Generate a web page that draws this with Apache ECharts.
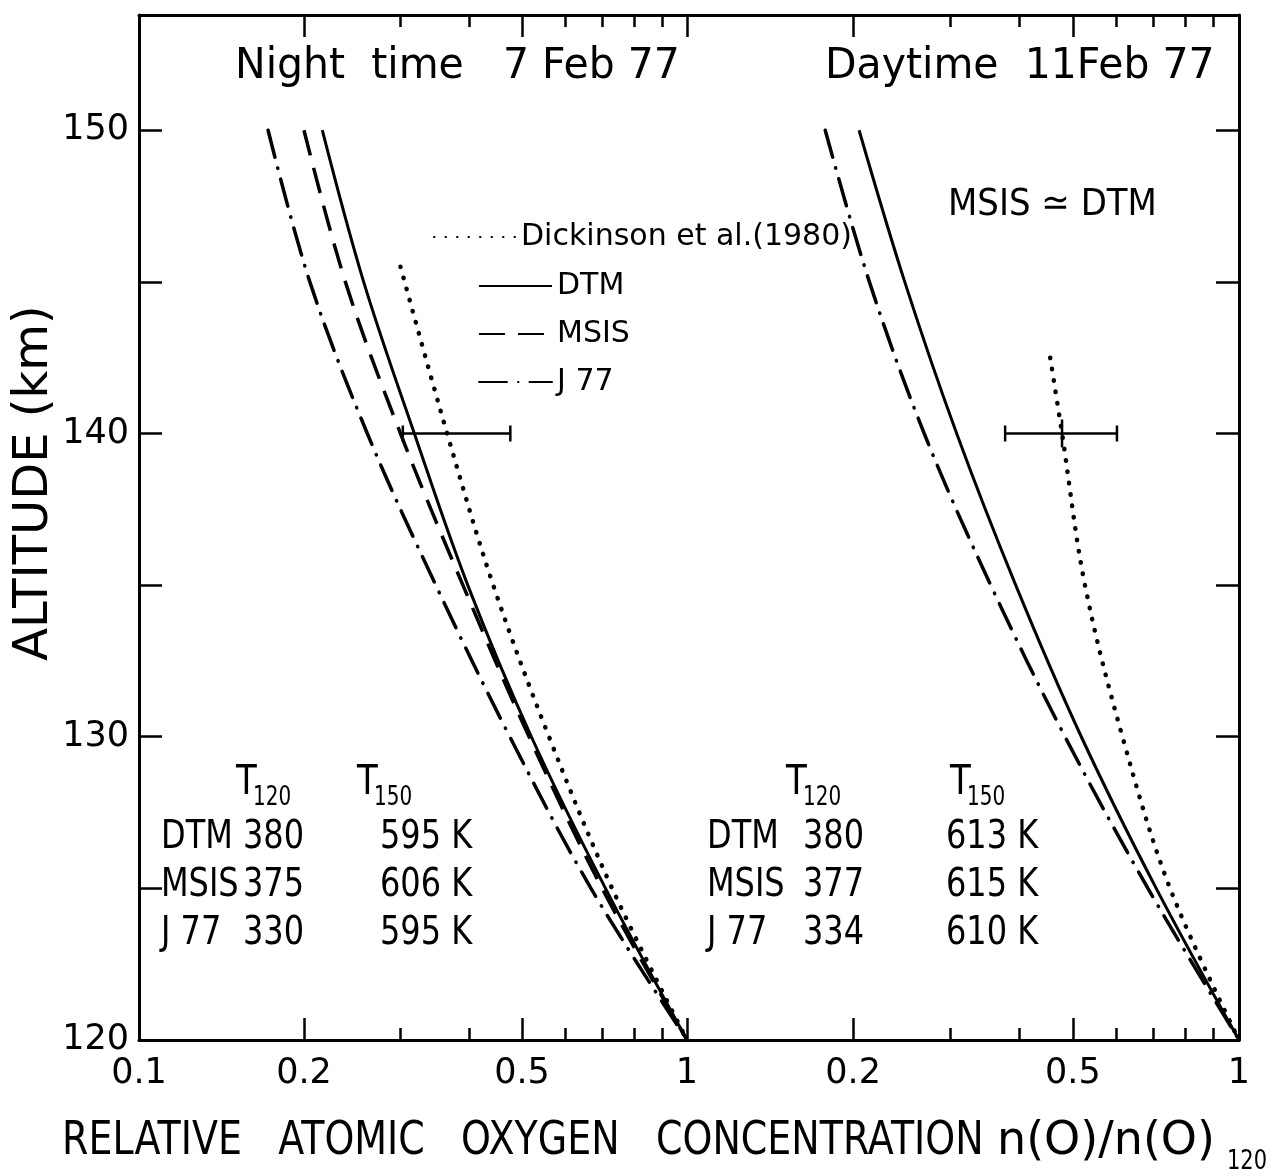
<!DOCTYPE html>
<html><head><meta charset="utf-8">
<script src="https://cdn.jsdelivr.net/npm/echarts@6/dist/echarts.min.js"></script>
<style>html,body{margin:0;padding:0;background:#fff}#c{width:1282px;height:1176px}</style>
</head><body><div id="c"></div>
<script>
// ---------- data ----------
const altitudes  = [150, 145, 140, 135, 130, 125, 120];
const nightDTM   = [0.216, 0.257, 0.318, 0.398, 0.520, 0.710, 1.0];
const nightMSIS  = [0.200, 0.238, 0.300, 0.390, 0.515, 0.700, 1.0];
const nightJ77   = [0.172, 0.205, 0.261, 0.348, 0.475, 0.668, 1.0];
const nightDickAlt = [145.5, 140, 135, 130, 125, 120];
const nightDick    = [0.300, 0.365, 0.443, 0.560, 0.730, 1.0];
const dayDTM     = [0.205, 0.248, 0.308, 0.394, 0.518, 0.708, 1.0];
const dayJ77     = [0.178, 0.214, 0.269, 0.355, 0.484, 0.684, 1.0];
const dayDickAlt = [142.5, 140, 135, 130, 125, 120];
const dayDick    = [0.455, 0.478, 0.526, 0.615, 0.750, 1.0];
const errorAltitude = 140;
const nightError = [0.303, 0.476];          // low, high
const dayError   = [0.377, 0.601, 0.478];   // low, high, centre
const xLabelsNight = [0.1, 0.2, 0.5, 1];
const xLabelsDay   = [0.2, 0.5, 1];
const xMajorTicks  = [0.2, 0.5, 1];
const xMinorTicks  = [0.3, 0.4, 0.6, 0.7, 0.8, 0.9];
const yLabels = [120, 130, 140, 150];
const yTicks  = [125, 130, 135, 140, 145, 150];
const tableHeader = [['T', '120'], ['T', '150']];
const nightTable = [['DTM', '380', '595 K'], ['MSIS', '375', '606 K'], ['J 77', '330', '595 K']];
const dayTable   = [['DTM', '380', '613 K'], ['MSIS', '377', '615 K'], ['J 77', '334', '610 K']];
const nightTitle = 'Night  time   7 Feb 77';
const dayTitle   = 'Daytime  11Feb 77';
const dayNote    = 'MSIS \u2243 DTM';
const xNameWords = 'RELATIVE   ATOMIC   OXYGEN   CONCENTRATION';
const xNameRatio = 'n(O)/n(O)';
const xNameSub = '120';
const yName = 'ALTITUDE (km)';
const NAMES = {dick: 'Dickinson et al.(1980)', dtm: 'DTM', msis: 'MSIS', j77: 'J 77'};

// ---------- styling ----------
const FONT = '"DejaVu Sans", sans-serif';
const BLACK = '#000';
const zip = (xs, ys) => xs.map((x, i) => [x, ys[i]]);

const styles = {
  dtm:  {type: 'solid', width: 3, color: BLACK},
  msis: {type: [26, 13], width: 3.5, color: BLACK},
  j77:  {type: [28, 11, 0.5, 11], width: 3.5, cap: 'round', color: BLACK},
  dick: {type: [0.5, 11], width: 4.5, cap: 'round', color: BLACK}
};

function lineSeries(key, data, panel) {
  return {
    type: 'line', name: NAMES[key], data: data,
    xAxisIndex: panel * 4, yAxisIndex: panel,
    symbol: 'none', smooth: 0.35, silent: true,
    lineStyle: styles[key], itemStyle: {color: BLACK}, z: 3
  };
}

function errorSeries(values, panel) {
  return {
    type: 'custom', xAxisIndex: panel * 4, yAxisIndex: panel, silent: true, z: 4,
    data: [values.length > 2 ? [values[0], values[1], errorAltitude, values[2]] : [values[0], values[1], errorAltitude]],
    encode: {x: [0, 1], y: 2},
    renderItem: (params, api) => {
      const a = api.coord([api.value(0), api.value(2)]);
      const b = api.coord([api.value(1), api.value(2)]);
      const st = {stroke: BLACK, lineWidth: 2.5};
      const ch = [
        {type: 'line', shape: {x1: a[0], y1: a[1], x2: b[0], y2: b[1]}, style: st},
        {type: 'line', shape: {x1: a[0], y1: a[1] - 8, x2: a[0], y2: a[1] + 8}, style: st},
        {type: 'line', shape: {x1: b[0], y1: b[1] - 8, x2: b[0], y2: b[1] + 8}, style: st}
      ];
      const m = api.value(3);
      if (!isNaN(m)) {
        const c = api.coord([m, api.value(2)]);
        ch.push({type: 'line', shape: {x1: c[0], y1: c[1] - 14, x2: c[0], y2: c[1] + 14}, style: st});
      }
      return {type: 'group', children: ch};
    }
  };
}

function xAxes(grid, labels) {
  const base = {type: 'log', logBase: 10, min: 0.1, max: 1, gridIndex: grid, splitLine: {show: false}};
  return [
    Object.assign({}, base, {position: 'bottom',
      axisLine: {show: true, lineStyle: {color: BLACK, width: 3}},
      axisTick: {show: true, inside: true, length: 22, customValues: xMajorTicks, lineStyle: {color: BLACK, width: 2.5}},
      axisLabel: {show: true, customValues: labels, color: BLACK, fontSize: 35, fontFamily: FONT, margin: 16,
        formatter: v => String(Math.round(v * 10) / 10)}}),
    Object.assign({}, base, {position: 'bottom',
      axisLine: {show: false},
      axisTick: {show: true, inside: true, length: 12, customValues: xMinorTicks, lineStyle: {color: BLACK, width: 2.5}},
      axisLabel: {show: false}}),
    Object.assign({}, base, {position: 'top',
      axisLine: {show: true, lineStyle: {color: BLACK, width: 3}},
      axisTick: {show: true, inside: true, length: 22, customValues: xMajorTicks, lineStyle: {color: BLACK, width: 2.5}},
      axisLabel: {show: false}}),
    Object.assign({}, base, {position: 'top',
      axisLine: {show: false},
      axisTick: {show: true, inside: true, length: 12, customValues: xMinorTicks, lineStyle: {color: BLACK, width: 2.5}},
      axisLabel: {show: false}})
  ];
}

function yAxis(grid, pos, showLabels) {
  return {
    type: 'value', gridIndex: grid, position: pos, min: 120, max: 153.8,
    splitLine: {show: false},
    axisLine: {show: true, lineStyle: {color: BLACK, width: 3}},
    axisTick: {show: true, inside: true, length: 23, customValues: yTicks, lineStyle: {color: BLACK, width: 2.5}},
    axisLabel: {show: showLabels, customValues: yLabels, color: BLACK, fontSize: 35, fontFamily: FONT, margin: 10}
  };
}

function txt(x, y, text, size, o) {
  o = o || {};
  return {type: 'text', x: x, y: y, silent: true,
    rotation: o.rotation || 0, scaleX: o.sx || 1, scaleY: o.sy || 1,
    style: {text: text, fill: BLACK, font: size + 'px ' + FONT,
      textAlign: o.align || 'left', textVerticalAlign: 'middle'}};
}

const graphics = [
  txt(235, 67, nightTitle, 41, {sy: 1.05}),
  txt(825, 67, dayTitle, 41, {sy: 1.05}),
  txt(948, 205, dayNote, 34, {sy: 1.1}),
  txt(35, 483, yName, 48, {align: 'center', rotation: Math.PI / 2}),
  txt(62, 1142, xNameWords, 38, {sy: 1.2}),
  txt(997, 1142, xNameRatio, 46, {sy: 1.0}),
  txt(1227, 1162, xNameSub, 21, {sy: 1.3})
];

function table(rows, hx, cols) {
  hx.forEach((x, k) => {
    graphics.push(txt(x, 783, tableHeader[k][0], 34, {sy: 1.2}));
    graphics.push(txt(x + 17, 798, tableHeader[k][1], 20, {sy: 1.3}));
  });
  rows.forEach((r, i) => {
    const y = 838 + i * 48;
    graphics.push(txt(cols[0], y, r[0], 32, {sy: 1.2}));
    graphics.push(txt(cols[1], y, r[1], 32, {sy: 1.2, align: 'right'}));
    graphics.push(txt(cols[2], y, r[2], 32, {sy: 1.2}));
  });
}
table(nightTable, [236, 357], [161, 304, 380]);
table(dayTable, [786, 950], [707, 864, 946]);

const legendText = {color: BLACK, fontSize: 30, fontFamily: FONT};
const option = {
  animation: false,
  backgroundColor: '#fff',
  grid: [
    {left: 139, top: 15, width: 548, height: 1025},
    {left: 687, top: 15, width: 552, height: 1025}
  ],
  xAxis: xAxes(0, xLabelsNight).concat(xAxes(1, xLabelsDay)),
  yAxis: [yAxis(0, 'left', true), yAxis(1, 'right', false)],
  legend: [
    {data: [NAMES.dick], left: 428, top: 217, itemWidth: 82, itemHeight: 14, selectedMode: false,
      itemStyle: {opacity: 0}, textStyle: legendText},
    {data: [NAMES.dtm, NAMES.msis, NAMES.j77], orient: 'vertical', left: 473, top: 266, itemWidth: 73,
      itemHeight: 14, itemGap: 18, selectedMode: false, itemStyle: {opacity: 0}, textStyle: legendText}
  ],
  series: [
    lineSeries('dtm',  zip(nightDTM, altitudes), 0),
    lineSeries('msis', zip(nightMSIS, altitudes), 0),
    lineSeries('j77',  zip(nightJ77, altitudes), 0),
    lineSeries('dick', zip(nightDick, nightDickAlt), 0),
    lineSeries('dtm',  zip(dayDTM, altitudes), 1),
    lineSeries('j77',  zip(dayJ77, altitudes), 1),
    lineSeries('dick', zip(dayDick, dayDickAlt), 1),
    errorSeries(nightError, 0),
    errorSeries(dayError, 1)
  ],
  graphic: graphics
};
const chart = echarts.init(document.getElementById('c'), null, {renderer: 'canvas'});
chart.setOption(option);
</script>
</body></html>
